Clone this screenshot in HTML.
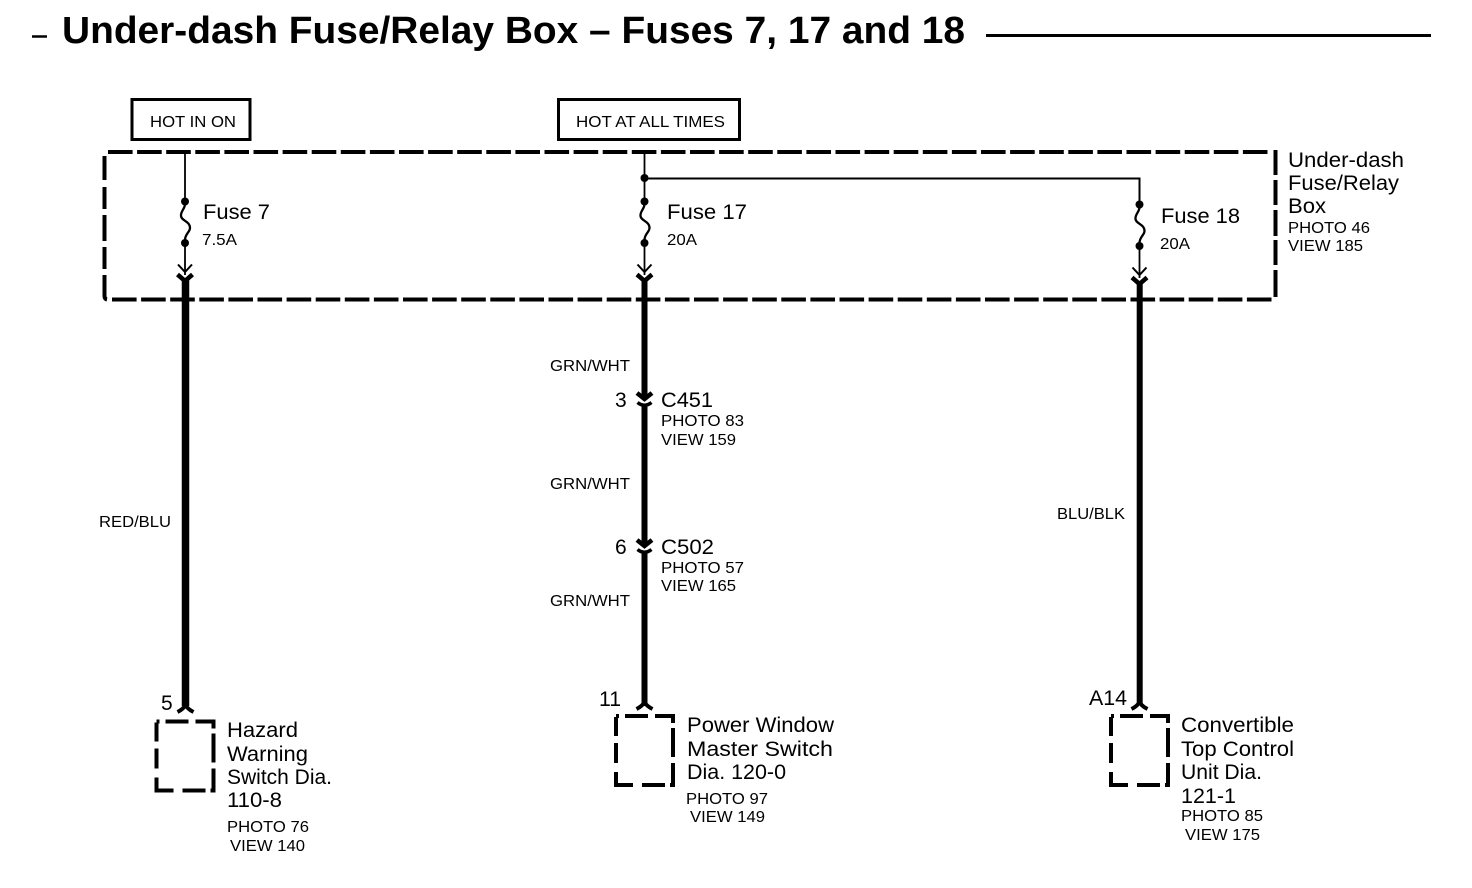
<!DOCTYPE html>
<html><head><meta charset="utf-8"><title>Under-dash Fuse/Relay Box</title>
<style>
html,body{margin:0;padding:0;background:#fff}
svg{display:block}
text{font-family:"Liberation Sans",Arial,sans-serif;fill:#000}
.m{font-size:21px}
.s{font-size:16px}
.t{font-size:15.5px}
</style></head><body>
<svg xmlns="http://www.w3.org/2000/svg" width="1472" height="888" viewBox="0 0 1472 888">
<defs>
<g id="fuse" fill="none" stroke="#000">
  <circle cx="0" cy="201.500" r="4" fill="#000" stroke="none"/>
  <path d="M0 204C0 209 -4.500 211 -4 216C-3.500 221 5 221 5 228C5 232 0 234 0 240" stroke-width="2.300"/>
  <circle cx="0" cy="243" r="4" fill="#000" stroke="none"/>
  <path d="M0 243V275" stroke-width="1.800"/>
  <path d="M-7 264.500L0 272L7 264.500" stroke-width="2"/>
  <path d="M-7.500 274.500L0 281L7.500 274.500" stroke-width="4.500"/>
</g>
<g id="dbox" fill="none" stroke="#000" stroke-width="4">
  <path d="M0 0H3M9 0H32M39 0H57V7M57 12V41M57 47V69H54M49 69H26M17 69H0V56M0 47V27M0 20V1"/>
</g>
<g id="conn" fill="none" stroke="#000">
  <path d="M-7.500 -7L0 -1L7.500 -7" stroke-width="4.500"/>
  <path d="M-7 2.500Q0 8 7 2.500" stroke-width="3.500"/>
</g>
<path id="top" d="M-8 7Q-2 4 0 0Q2 4 8 7" fill="none" stroke="#000" stroke-width="4"/>
</defs>

<!-- title -->
<path d="M32 36.500H47" stroke="#000" stroke-width="2.500"/>
<text x="62" y="43" font-size="38" font-weight="bold" textLength="903" lengthAdjust="spacingAndGlyphs">Under-dash Fuse/Relay Box – Fuses 7, 17 and 18</text>
<path d="M986 35.500H1431" stroke="#000" stroke-width="3"/>

<!-- hot boxes -->
<rect x="132" y="99.500" width="118" height="40" fill="none" stroke="#000" stroke-width="3"/>
<text x="150" y="127" class="s" textLength="86" lengthAdjust="spacingAndGlyphs">HOT IN ON</text>
<rect x="558.500" y="99.500" width="181" height="40" fill="none" stroke="#000" stroke-width="3"/>
<text x="576" y="127" class="s" textLength="149" lengthAdjust="spacingAndGlyphs">HOT AT ALL TIMES</text>

<!-- dashed fuse box -->
<g fill="none" stroke="#000" stroke-width="4">
  <path d="M108 152H1268" stroke-dasharray="24.600 4.500"/>
  <path d="M1275.500 150V175M1275.500 180V205M1275.500 210V236M1275.500 240V265M1275.500 270V297"/>
  <path d="M112 299.500H1273" stroke-dasharray="24.600 4.500"/>
  <path d="M104.500 156V180M104.500 187V209M104.500 215V241M104.500 247V269M104.500 275V296Q104.500 299 107 299.500"/>
</g>

<!-- fuses -->
<path d="M185 153V201M644.500 153V201" stroke="#000" stroke-width="1.800"/>
<use href="#fuse" x="185"/>
<use href="#fuse" x="644.500"/>
<use href="#fuse" x="1139.500" y="3"/>
<circle cx="644.500" cy="178" r="4" fill="#000"/>
<path d="M644.500 178.500H1139.500V204" fill="none" stroke="#000" stroke-width="2"/>

<!-- thick wires -->
<g stroke="#000">
  <path d="M185.500 278V706" stroke-width="7.500"/>
  <path d="M644.500 281V398M644.500 405V545M644.500 552V706" stroke-width="6"/>
  <path d="M1139.700 284V705" stroke-width="6"/>
</g>
<use href="#conn" x="644.500" y="400"/>
<use href="#conn" x="644.500" y="547"/>
<use href="#top" x="185.500" y="705"/>
<use href="#top" x="644.500" y="702"/>
<use href="#top" x="1139.500" y="702"/>

<!-- device boxes -->
<use href="#dbox" x="156.500" y="721.500"/>
<use href="#dbox" x="616" y="716"/>
<use href="#dbox" x="1111" y="716"/>

<!-- fuse labels -->
<text x="203" y="219" class="m" textLength="67" lengthAdjust="spacingAndGlyphs">Fuse 7</text>
<text x="202" y="245" class="t" textLength="35" lengthAdjust="spacingAndGlyphs">7.5A</text>
<text x="667" y="219" class="m" textLength="80" lengthAdjust="spacingAndGlyphs">Fuse 17</text>
<text x="667" y="245" class="t" textLength="30" lengthAdjust="spacingAndGlyphs">20A</text>
<text x="1161" y="223" class="m" textLength="79" lengthAdjust="spacingAndGlyphs">Fuse 18</text>
<text x="1160" y="249" class="t" textLength="30" lengthAdjust="spacingAndGlyphs">20A</text>

<!-- box label -->
<text x="1288" y="167" class="m" textLength="116" lengthAdjust="spacingAndGlyphs">Under-dash</text>
<text x="1288" y="190" class="m" textLength="111" lengthAdjust="spacingAndGlyphs">Fuse/Relay</text>
<text x="1288" y="213" class="m" textLength="38" lengthAdjust="spacingAndGlyphs">Box</text>
<text x="1288" y="233" class="s" textLength="82" lengthAdjust="spacingAndGlyphs">PHOTO 46</text>
<text x="1288" y="251" class="s" textLength="75" lengthAdjust="spacingAndGlyphs">VIEW 185</text>

<!-- wire labels -->
<text x="99" y="527" class="s" textLength="72" lengthAdjust="spacingAndGlyphs">RED/BLU</text>
<text x="550" y="371" class="s" textLength="80" lengthAdjust="spacingAndGlyphs">GRN/WHT</text>
<text x="550" y="489" class="s" textLength="80" lengthAdjust="spacingAndGlyphs">GRN/WHT</text>
<text x="550" y="606" class="s" textLength="80" lengthAdjust="spacingAndGlyphs">GRN/WHT</text>
<text x="1057" y="519" class="s" textLength="68" lengthAdjust="spacingAndGlyphs">BLU/BLK</text>

<!-- connectors -->
<text x="615" y="407" class="m">3</text>
<text x="661" y="407" class="m" textLength="52" lengthAdjust="spacingAndGlyphs">C451</text>
<text x="661" y="426" class="s" textLength="83" lengthAdjust="spacingAndGlyphs">PHOTO 83</text>
<text x="661" y="445" class="s" textLength="75" lengthAdjust="spacingAndGlyphs">VIEW 159</text>
<text x="615" y="554" class="m">6</text>
<text x="661" y="554" class="m" textLength="53" lengthAdjust="spacingAndGlyphs">C502</text>
<text x="661" y="573" class="s" textLength="83" lengthAdjust="spacingAndGlyphs">PHOTO 57</text>
<text x="661" y="591" class="s" textLength="75" lengthAdjust="spacingAndGlyphs">VIEW 165</text>

<!-- pin labels -->
<text x="161" y="710" class="m">5</text>
<text x="599" y="706" class="m" textLength="22" lengthAdjust="spacingAndGlyphs">11</text>
<text x="1089" y="705" class="m" textLength="38" lengthAdjust="spacingAndGlyphs">A14</text>

<!-- device labels -->
<text x="227" y="737" class="m" textLength="71" lengthAdjust="spacingAndGlyphs">Hazard</text>
<text x="227" y="761" class="m" textLength="81" lengthAdjust="spacingAndGlyphs">Warning</text>
<text x="227" y="784" class="m" textLength="105" lengthAdjust="spacingAndGlyphs">Switch Dia.</text>
<text x="227" y="807" class="m" textLength="55" lengthAdjust="spacingAndGlyphs">110-8</text>
<text x="227" y="832" class="s" textLength="82" lengthAdjust="spacingAndGlyphs">PHOTO 76</text>
<text x="230" y="851" class="s" textLength="75" lengthAdjust="spacingAndGlyphs">VIEW 140</text>

<text x="687" y="732" class="m" textLength="147" lengthAdjust="spacingAndGlyphs">Power Window</text>
<text x="687" y="756" class="m" textLength="146" lengthAdjust="spacingAndGlyphs">Master Switch</text>
<text x="687" y="779" class="m" textLength="99" lengthAdjust="spacingAndGlyphs">Dia. 120-0</text>
<text x="686" y="804" class="s" textLength="82" lengthAdjust="spacingAndGlyphs">PHOTO 97</text>
<text x="690" y="822" class="s" textLength="75" lengthAdjust="spacingAndGlyphs">VIEW 149</text>

<text x="1181" y="732" class="m" textLength="113" lengthAdjust="spacingAndGlyphs">Convertible</text>
<text x="1181" y="756" class="m" textLength="113" lengthAdjust="spacingAndGlyphs">Top Control</text>
<text x="1181" y="779" class="m" textLength="81" lengthAdjust="spacingAndGlyphs">Unit Dia.</text>
<text x="1181" y="803" class="m" textLength="55" lengthAdjust="spacingAndGlyphs">121-1</text>
<text x="1181" y="821" class="s" textLength="82" lengthAdjust="spacingAndGlyphs">PHOTO 85</text>
<text x="1185" y="840" class="s" textLength="75" lengthAdjust="spacingAndGlyphs">VIEW 175</text>
</svg>
</body></html>
